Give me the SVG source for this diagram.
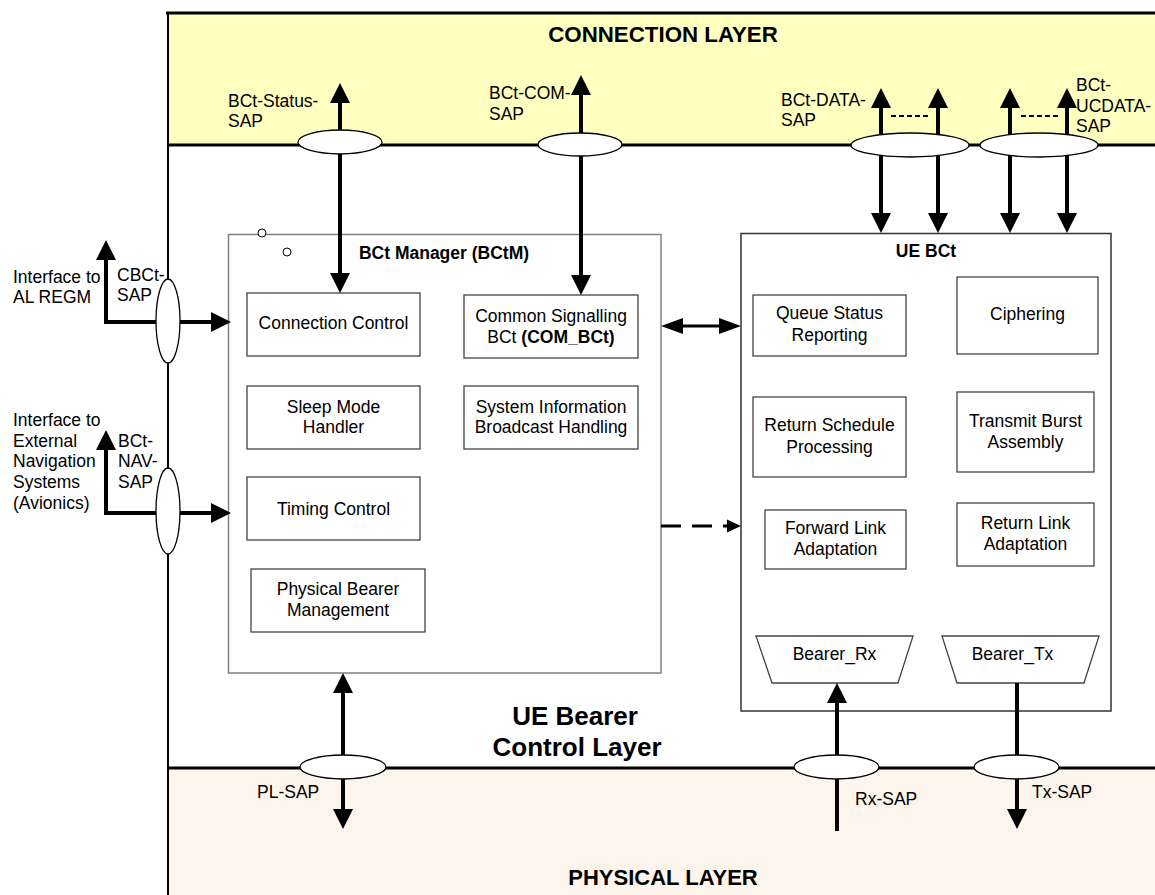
<svg xmlns="http://www.w3.org/2000/svg" width="1155" height="895" viewBox="0 0 1155 895">
<style>
text{font-family:"Liberation Sans",Arial,sans-serif;font-size:17.5px;fill:#000}
.c{text-anchor:middle}
.b{font-weight:bold}
.box{fill:#fff;stroke:#444;stroke-width:1.3}
.sap{fill:#fff;stroke:#000;stroke-width:1.3}
.th{stroke:#000;stroke-width:4;fill:none}
.md{stroke:#000;stroke-width:3;fill:none}
</style>
<defs>
<marker id="ah" viewBox="0 0 20 20" refX="0" refY="10" markerWidth="20" markerHeight="20" markerUnits="userSpaceOnUse" orient="auto-start-reverse"><path d="M0,0 L20,10 L0,20 z" fill="#000"/></marker>
<marker id="sh" viewBox="0 0 22 16" refX="0" refY="8" markerWidth="22" markerHeight="16" markerUnits="userSpaceOnUse" orient="auto-start-reverse"><path d="M0,0 L22,8 L0,16 z" fill="#000"/></marker>
</defs>
<g id="layers">
<rect x="167" y="13" width="990" height="132" fill="#FFFFC0"/>
<rect x="167" y="768" width="990" height="130" fill="#FDF5EB"/>
<line x1="166" y1="13" x2="1155" y2="13" stroke="#000" stroke-width="3"/>
<line x1="167" y1="145" x2="1155" y2="145" stroke="#000" stroke-width="3"/>
<line x1="167" y1="768" x2="1155" y2="768" stroke="#000" stroke-width="3"/>
<line x1="168" y1="12" x2="168" y2="895" stroke="#000" stroke-width="2"/>
<text class="c b" x="663" y="42" style="font-size:22.3px">CONNECTION LAYER</text>
<text class="c b" x="575" y="725" style="font-size:26px">UE Bearer</text>
<text class="c b" x="577" y="756" style="font-size:26px">Control Layer</text>
<text class="c b" x="663" y="885" style="font-size:22px">PHYSICAL LAYER</text>
</g>
<g id="bctm">
<rect x="228.5" y="234.5" width="432.5" height="438.5" fill="#fff" stroke="#808080" stroke-width="1.5"/>
<circle cx="262" cy="233" r="4" fill="#fff" stroke="#000" stroke-width="1"/>
<circle cx="287" cy="252" r="4" fill="#fff" stroke="#000" stroke-width="1"/>
<text class="c b" x="444" y="259">BCt Manager (BCtM)</text>
</g>
<g id="connection-control"><rect class="box" x="247" y="293" width="173" height="63"/><text class="c" x="333.5" y="329">Connection Control</text></g>
<g id="common-signalling"><rect class="box" x="464" y="295" width="174" height="63"/><text class="c" x="551" y="322">Common Signalling</text><text class="c" x="551" y="343">BCt <tspan class="b">(COM_BCt)</tspan></text></g>
<g id="sleep-mode"><rect class="box" x="247" y="386" width="173" height="63"/><text class="c" x="333.5" y="413">Sleep Mode</text><text class="c" x="333.5" y="433">Handler</text></g>
<g id="system-info"><rect class="box" x="464" y="386" width="174" height="63"/><text class="c" x="551" y="413">System Information</text><text class="c" x="551" y="433">Broadcast Handling</text></g>
<g id="timing-control"><rect class="box" x="247" y="477" width="173" height="63"/><text class="c" x="333.5" y="515">Timing Control</text></g>
<g id="physical-bearer"><rect class="box" x="251" y="569" width="174" height="63"/><text class="c" x="338" y="595">Physical Bearer</text><text class="c" x="338" y="616">Management</text></g>
<g id="uebct">
<rect x="741" y="233.5" width="370" height="477.5" fill="#fff" stroke="#333" stroke-width="1.5"/>
<text class="c b" x="926" y="257">UE BCt</text>
</g>
<g id="queue-status"><rect class="box" x="753" y="295" width="153" height="61"/><text class="c" x="829.5" y="319">Queue Status</text><text class="c" x="829.5" y="341">Reporting</text></g>
<g id="ciphering"><rect class="box" x="957" y="277" width="141" height="77"/><text class="c" x="1027.5" y="320">Ciphering</text></g>
<g id="return-schedule"><rect class="box" x="753" y="397" width="153" height="80"/><text class="c" x="829.5" y="431">Return Schedule</text><text class="c" x="829.5" y="453">Processing</text></g>
<g id="transmit-burst"><rect class="box" x="957" y="392" width="137" height="80"/><text class="c" x="1025.5" y="427">Transmit Burst</text><text class="c" x="1025.5" y="448">Assembly</text></g>
<g id="forward-link"><rect class="box" x="765" y="510" width="141" height="59"/><text class="c" x="835.5" y="534">Forward Link</text><text class="c" x="835.5" y="555">Adaptation</text></g>
<g id="return-link"><rect class="box" x="957" y="503" width="137" height="63"/><text class="c" x="1025.5" y="529">Return Link</text><text class="c" x="1025.5" y="550">Adaptation</text></g>
<g id="bearer-rx"><path class="box" d="M756,636 L913,636 L898,683 L772,683 Z"/><text class="c" x="834.5" y="660">Bearer_Rx</text></g>
<g id="bearer-tx"><path class="box" d="M942,636 L1099,636 L1084,683 L957,683 Z"/><text class="c" x="1012.5" y="660">Bearer_Tx</text></g>
<g id="connectors">
<line class="th" x1="340" y1="130" x2="340" y2="103" marker-end="url(#ah)"/>
<line class="th" x1="340" y1="154" x2="340" y2="273" marker-end="url(#ah)"/>
<line class="th" x1="581" y1="134" x2="581" y2="95" marker-end="url(#ah)"/>
<line class="th" x1="581" y1="156" x2="581" y2="275" marker-end="url(#ah)"/>
<line class="th" x1="881" y1="108" x2="881" y2="213" marker-start="url(#ah)" marker-end="url(#ah)"/>
<line class="th" x1="938" y1="108" x2="938" y2="213" marker-start="url(#ah)" marker-end="url(#ah)"/>
<line class="th" x1="1010" y1="108" x2="1010" y2="213" marker-start="url(#ah)" marker-end="url(#ah)"/>
<line class="th" x1="1067" y1="108" x2="1067" y2="213" marker-start="url(#ah)" marker-end="url(#ah)"/>
<line x1="891" y1="116" x2="929" y2="116" stroke="#000" stroke-width="2" stroke-dasharray="5,3"/>
<line x1="1021" y1="116" x2="1059" y2="116" stroke="#000" stroke-width="2" stroke-dasharray="5,3"/>
<polyline class="th" points="106,260 106,322 211,322" marker-start="url(#ah)" marker-end="url(#ah)"/>
<polyline class="th" points="106,450 106,513 211,513" marker-start="url(#ah)" marker-end="url(#ah)"/>
<line class="md" x1="683" y1="326" x2="719" y2="326" marker-start="url(#sh)" marker-end="url(#sh)"/>
<line class="md" x1="661" y1="526" x2="728" y2="526" stroke-dasharray="20,11"/>
<path d="M727,519.5 L741,526 L727,532.5 Z" fill="#000"/>
<line class="th" x1="343" y1="693" x2="343" y2="809" marker-start="url(#ah)" marker-end="url(#ah)"/>
<line class="th" x1="837" y1="831" x2="837" y2="703" marker-end="url(#ah)"/>
<line class="th" x1="1017" y1="683" x2="1017" y2="809" marker-end="url(#ah)"/>
</g>
<g id="saps">
<ellipse class="sap" cx="340" cy="142" rx="42" ry="12"/>
<ellipse class="sap" cx="580" cy="144.5" rx="42" ry="11.5"/>
<ellipse class="sap" cx="910" cy="145" rx="59" ry="12"/>
<ellipse class="sap" cx="1039" cy="145" rx="59" ry="12"/>
<ellipse class="sap" cx="168" cy="321" rx="12" ry="42"/>
<ellipse class="sap" cx="168" cy="511" rx="12" ry="43"/>
<ellipse class="sap" cx="343" cy="767" rx="43" ry="12"/>
<ellipse class="sap" cx="836.5" cy="767" rx="42.5" ry="12"/>
<ellipse class="sap" cx="1016.5" cy="767" rx="42.5" ry="12"/>
</g>
<g id="labels">
<text x="228" y="107">BCt-Status-</text><text x="228" y="127">SAP</text>
<text x="489" y="99">BCt-COM-</text><text x="489" y="120">SAP</text>
<text x="781" y="106">BCt-DATA-</text><text x="781" y="126">SAP</text>
<text x="1076" y="91">BCt-</text><text x="1076" y="112">UCDATA-</text><text x="1076" y="132">SAP</text>
<text x="13" y="283">Interface to</text><text x="13" y="303">AL REGM</text>
<text x="117" y="281">CBCt-</text><text x="117" y="301">SAP</text>
<text x="13" y="426">Interface to</text><text x="13" y="447">External</text><text x="13" y="467">Navigation</text><text x="13" y="488">Systems</text><text x="13" y="509">(Avionics)</text>
<text x="118" y="447">BCt-</text><text x="118" y="467">NAV-</text><text x="118" y="488">SAP</text>
<text x="257" y="798">PL-SAP</text>
<text x="855" y="805">Rx-SAP</text>
<text x="1032" y="798">Tx-SAP</text>
</g>
</svg>
